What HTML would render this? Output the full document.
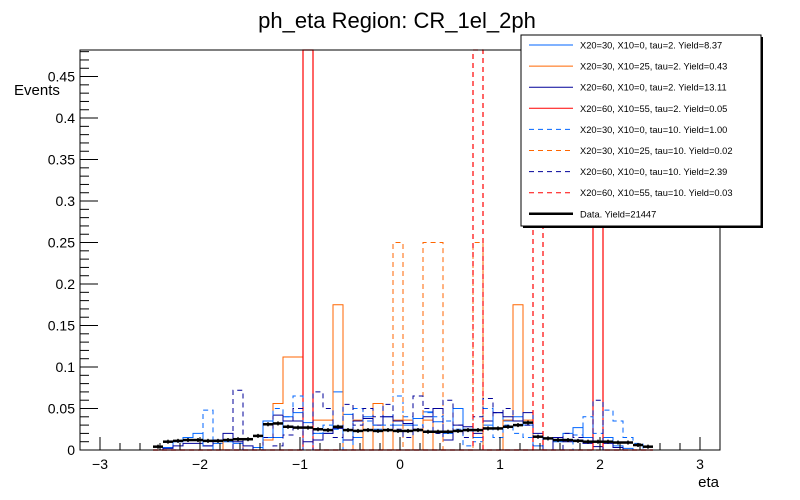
<!DOCTYPE html>
<html><head><meta charset="utf-8"><style>
body{margin:0;background:#fff}
svg{display:block;font-family:"Liberation Sans",sans-serif}
</style></head><body>
<svg id="c" width="800" height="500">
<text x="397" y="28" font-size="22" text-anchor="middle">ph_eta Region: CR_1el_2ph</text>
<text x="14" y="95" font-size="15">Events</text>
<text x="719" y="487" font-size="15" text-anchor="end">eta</text>
<g id="plot"></g>
<g id="axes"></g>
<g id="legend"></g>
</svg>
<script>
const binStart = -2.47, binWidth = 0.1;
const xTicks = [-3,-2,-1,0,1,2,3];
const yTicks = [0,0.05,0.1,0.15,0.2,0.25,0.3,0.35,0.4,0.45];
const yTickLabels = ["0","0.05","0.1","0.15","0.2","0.25","0.3","0.35","0.4","0.45"];
const seriesNames = ["X20=30, X10=0, tau=2. Yield=8.37","X20=30, X10=25, tau=2. Yield=0.43","X20=60, X10=0, tau=2. Yield=13.11","X20=60, X10=55, tau=2. Yield=0.05","X20=30, X10=0, tau=10. Yield=1.00","X20=30, X10=25, tau=10. Yield=0.02","X20=60, X10=0, tau=10. Yield=2.39","X20=60, X10=55, tau=10. Yield=0.03","Data. Yield=21447"];
const azureSolid = [0,0.003,0.010,0.015,0.020,0.005,0.008,0.010,0.008,0,0.003,0.035,0.015,0.040,0.045,0.033,0.020,0.020,0.070,0.043,0.015,0.040,0.025,0.040,0.030,0.030,0.038,0.046,0.034,0.020,0.050,0.025,0.015,0.030,0.045,0.035,0.040,0.030,0.005,0,0.010,0.020,0.027,0.015,0.010,0.015,0.005,0.002,0,0];
const orangeSolid = [0,0,0,0,0,0,0,0.012,0.012,0,0,0.012,0.056,0.112,0.112,0,0.036,0.036,0.175,0,0.036,0,0.056,0,0.036,0.036,0,0.036,0,0,0,0,0,0,0,0.036,0.175,0.036,0,0,0,0,0,0,0,0,0,0,0,0];
const navySolid = [0,0.002,0.005,0.008,0.008,0.005,0.012,0.020,0.010,0.005,0,0.015,0.042,0.035,0.035,0.010,0.012,0.020,0.026,0.012,0.035,0.038,0.030,0.040,0.035,0.032,0.025,0.040,0.050,0.012,0.030,0.028,0.020,0.035,0.045,0.040,0.035,0.045,0.020,0,0.015,0.010,0.012,0.008,0.004,0.008,0.003,0,0,0];
const redSolid = [0,0,0,0,0,0,0,0,0,0,0,0,0,0,0,1,0,0,0,0,0,0,0,0,0,0,0,0,0,0,0,0,0,0,0,0,0,0,0,0,0,0,0,0,1,0,0,0,0,0];
const azureDashed = [0,0,0,0,0,0.048,0,0,0,0,0,0.015,0.050,0.040,0.065,0,0.020,0.030,0.025,0,0.050,0.035,0.030,0.030,0.065,0.040,0.030,0.045,0.040,0.035,0.025,0.005,0.010,0.050,0.015,0.030,0.020,0.015,0,0,0,0,0.018,0.040,0.020,0.048,0.035,0.015,0.008,0];
const orangeDashed = [0,0,0,0,0,0,0,0,0,0,0,0,0,0,0,0,0,0,0,0,0,0,0,0,0.25,0,0,0.25,0.25,0,0,0,0.25,0,0,0,0,0,0,0,0,0,0,0,0,0,0,0,0,0];
const navyDashed = [0,0,0,0,0,0,0,0,0.072,0,0,0,0.005,0.018,0.050,0,0.070,0.050,0.015,0.055,0.030,0.050,0.040,0.055,0.025,0.015,0.065,0.050,0.020,0.060,0.030,0.015,0.040,0.062,0.045,0.050,0.035,0.030,0,0,0,0.020,0.015,0.010,0.060,0,0,0,0,0];
const redDashed = [0,0,0,0,0,0,0,0,0,0,0,0,0,0,0,0,0,0,0,0,0,0,0,0,0,0,0,0,0,0,0,0,1,0,0,0,0,0,1,0,0,0,0,0,0,0,0,0,0,0];
const dataValues = [0.004,0.010,0.011,0.012,0.012,0.011,0.011,0.012,0.013,0.013,0.017,0.031,0.032,0.028,0.027,0.027,0.025,0.024,0.028,0.024,0.023,0.024,0.023,0.024,0.023,0.023,0.024,0.022,0.022,0.022,0.023,0.024,0.024,0.026,0.026,0.028,0.030,0.033,0.016,0.014,0.012,0.012,0.011,0.010,0.010,0.010,0.009,0.009,0.006,0.004];

const NS="http://www.w3.org/2000/svg";
const L=80,R=720,T=50,B=450,XMIN=-3.2,XMAX=3.2,YMAX=0.482;
const xs=v=>L+(v-XMIN)/(XMAX-XMIN)*(R-L);
const ys=v=>B-Math.min(v,YMAX)/YMAX*(B-T);
function mk(tag,attrs,parent){const e=document.createElementNS(NS,tag);for(const k in attrs)e.setAttribute(k,attrs[k]);parent.appendChild(e);return e;}
const plot=document.getElementById('plot'),axes=document.getElementById('axes'),leg=document.getElementById('legend');
const styles=[
 {arr:azureSolid,c:"#0066ff",d:"",w:1,n:"azure-x20-30-x10-0-tau2"},
 {arr:orangeSolid,c:"#ff6600",d:"",w:1,n:"orange-x20-30-x10-25-tau2"},
 {arr:navySolid,c:"#000099",d:"",w:1,n:"navy-x20-60-x10-0-tau2"},
 {arr:redSolid,c:"#ff0000",d:"",w:1.2,n:"red-x20-60-x10-55-tau2"},
 {arr:azureDashed,c:"#0066ff",d:"5,4",w:1,n:"azure-dashed-tau10"},
 {arr:orangeDashed,c:"#ff6600",d:"5,4",w:1,n:"orange-dashed-tau10"},
 {arr:navyDashed,c:"#000099",d:"5,4",w:1,n:"navy-dashed-tau10"},
 {arr:redDashed,c:"#ff0000",d:"5,4",w:1.2,n:"red-dashed-tau10"}
];
styles.forEach(s=>{
  let d="M"+xs(binStart)+","+B;
  s.arr.forEach((v,k)=>{const x0=xs(binStart+k*binWidth),x1=xs(binStart+(k+1)*binWidth),y=ys(v);d+=" L"+x0+","+y+" L"+x1+","+y;});
  d+=" L"+xs(binStart+s.arr.length*binWidth)+","+B;
  const p=mk('path',{d:d,fill:"none",stroke:s.c,"stroke-width":s.w,"stroke-dasharray":s.d},plot);
  
  
});
dataValues.forEach((v,k)=>{
  const x0=xs(binStart+k*binWidth),x1=xs(binStart+(k+1)*binWidth),y=ys(v);
  const ln=mk('line',{x1:x0,x2:x1,y1:y,y2:y,stroke:"#000","stroke-width":2.5},plot);
  
  
  mk('line',{x1:(x0+x1)/2,x2:(x0+x1)/2,y1:y-2,y2:y+2,stroke:"#000","stroke-width":1.5},plot);
});
// frame
mk('rect',{x:L,y:T,width:R-L,height:B-T,fill:"none",stroke:"#000","stroke-width":1},axes);
// x ticks
for(let i=-16;i<=16;i++){const v=i*0.2;const x=xs(v);const major=(i%5===0);mk('line',{x1:x,x2:x,y1:B,y2:B-(major?13:7),stroke:"#000"},axes);}
xTicks.forEach(v=>{const t=mk('text',{x:xs(v),y:469,"font-size":14,"text-anchor":"middle"},axes);t.textContent=(v<0?"\u2212":"")+Math.abs(v);});
// y ticks
for(let i=0;i<=48;i++){const v=i*0.01;const y=ys(v);const major=(i%5===0);mk('line',{x1:L,x2:L+(major?18:9),y1:y,y2:y,stroke:"#000"},axes);}
yTicks.forEach((v,i)=>{const t=mk('text',{x:75,y:ys(v)+5,"font-size":14,"text-anchor":"end"},axes);t.textContent=yTickLabels[i];});
// legend
mk('rect',{x:523,y:37,width:240,height:191,fill:"#000"},leg);
mk('rect',{x:521,y:35,width:240,height:191,fill:"#fff",stroke:"#000"},leg);
seriesNames.forEach((n,i)=>{
  const y=45+i*21.1;
  const s=styles[i]||{c:"#000",d:"",w:2.5};
  const g=mk('g',{},leg);
  
  
  mk('line',{x1:529,x2:573,y1:y,y2:y,stroke:s.c,"stroke-width":i===8?2.5:1,"stroke-dasharray":s.d},g);
  const t=mk('text',{x:580,y:y+3.5,"font-size":9.3},g);t.textContent=n;
});
</script>
</body></html>
